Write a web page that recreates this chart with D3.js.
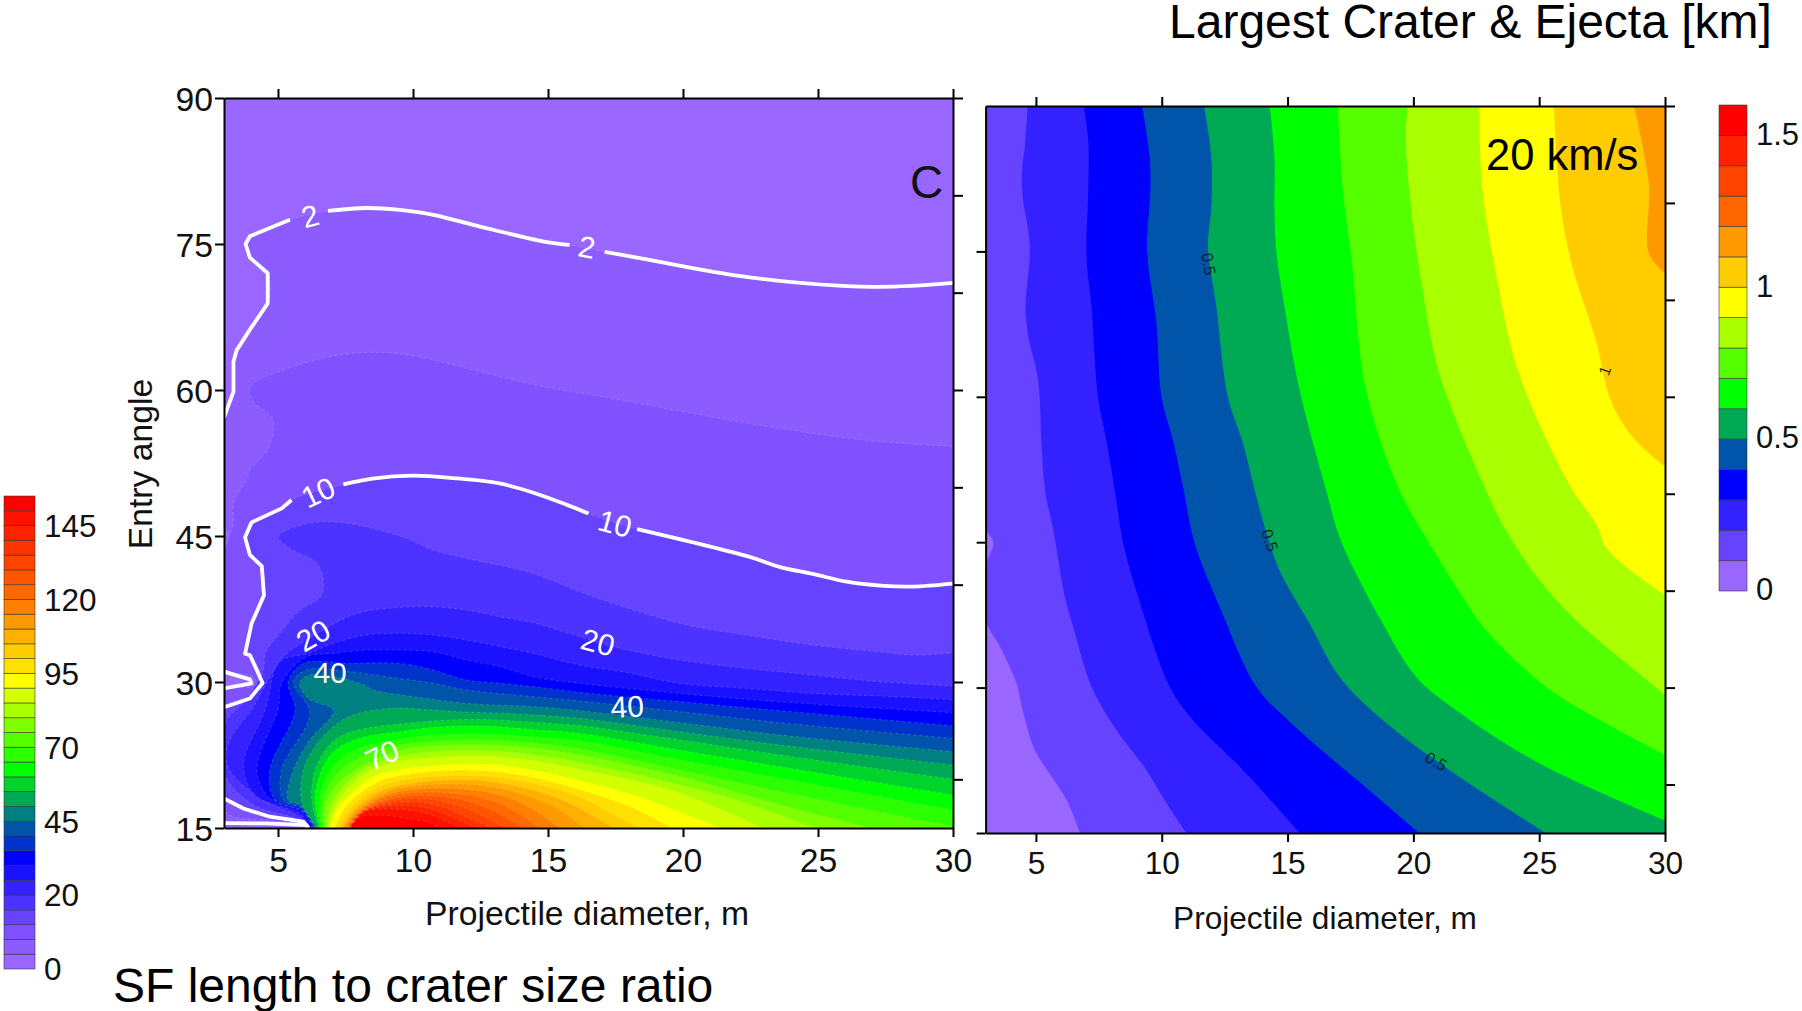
<!DOCTYPE html>
<html>
<head>
<meta charset="utf-8">
<script src="https://cdn.jsdelivr.net/npm/d3@7"></script>
<style>
	html, body { margin: 0; padding: 0; background: #fff; }
	svg { display: block; font-family: "Liberation Sans", Arial, sans-serif; }
</style>
</head>
<body>
<svg id="chart" width="1802" height="1011"></svg>
<script>
// tick values
const xTicks = [5, 10, 15, 20, 25, 30];
const leftAngleTicks = [15, 30, 45, 60, 75, 90];
const tenDegreeTicks = [20, 30, 40, 50, 60, 70, 80, 90];
const rightPanelLeftTicks = [15, 30, 45, 60, 75];

// left panel colour bar, bottom to top
const leftColors = ["#9966ff", "#8c5cff", "#8052ff", "#6644ff", "#4d33ff", "#3322ff", "#1a11ff", "#0000ff",
	"#0033cc", "#0055aa", "#008080", "#00aa55", "#00d42b", "#00ff00", "#2bff00", "#55ff00",
	"#80ff00", "#aaff00", "#d4ff00", "#ffff00", "#ffe000", "#ffcc00", "#ffb000", "#ff9900",
	"#ff8000", "#ff6a00", "#ff5500", "#ff4400", "#ff3300", "#ff2200", "#ff1100", "#ff0000"];
const leftLegendLabels = ["0", "20", "45", "70", "95", "120", "145"];
const leftLegendIndex = [0, 5, 10, 15, 20, 25, 30];

// right panel colour bar, bottom to top
const rightColors = ["#9966ff", "#6644ff", "#3322ff", "#0000ff", "#0055aa", "#00aa55", "#00ff00", "#55ff00",
	"#aaff00", "#ffff00", "#ffcc00", "#ff9900", "#ff6600", "#ff4400", "#ff2200", "#ff0000"];
const rightLegendValues = [0, 0.5, 1, 1.5];

// left panel isolines as [diameter, angle], nulls are breaks in the white line
const contour2 = [[6.12,15],[6.06,15.3],[4.58,15.47],[3,15.5],null,[3,29.35],[4.02,29.86],[3.96,30.27],[3,31.06],null,[3,43.7],null,[3.2,44.9],null,[3,46.3],null,[3,57.2],[3.35,59.8],[3.35,62.9],[3.47,64.1],[3.96,66.2],[4.62,68.9],[4.62,72],[3.96,73.6],[3.8,75],[3.96,75.8],[5.44,77.5],null,[6.85,78.4],[8.3,78.7],[9.5,78.5],[10.75,78],[12.6,76.7],[14.96,75.2],[15.8,74.9],null,[17.1,74.2],[18.5,73.5],[22.4,71.6],[27,70.6],[30,71]];
const contour5 = [[6.12,15],[6,15.4],[4.6,15.8],[3,16.8],[3,29],[4.1,29.6],[4.1,30.5],[3,31.5],[3,43],[3.34,46.3],[3.34,48.35],[3.84,50.8],[3.96,51.8],[4.64,54],[4.8,57],[4.09,58.8],[3.94,59.9],[4.09,60.7],[6.43,63.1],[7.9,63.8],[9.27,63.8],[10.75,63.1],[12.6,61.8],[15.07,60.2],[16.93,59.35],[22.8,56.4],[26.6,54.9],[30,54.2]];
const contour10 = [[6.12,15],[5.94,15.65],[4.7,16.16],[3.72,17],[3,18.05],null,[3,27.4],[3.96,28.3],[4.43,29.9],[3.96,32.77],[3.78,32.9],[4.02,36],[4.48,38.9],[4.4,41.9],[3.96,43.05],[3.78,44.86],[4.02,46.4],[5.14,47.84],[5.5,48.7],null,[7.42,50.3],[8.5,50.9],[10,51.2],[11.5,50.95],[13.2,50.4],[14.46,49.45],[15.7,48.2],[16.5,47.3],null,[18.3,45.7],[22.4,42.9],[23.6,41.8],[24.8,41.1],[26.06,40.3],[27.3,39.9],[28.5,39.8],[30,40.1]];
const contour15 = [[6.12,15],[5.81,15.82],[4.09,17.36],[3,20.61],[3,25.58],[3.9,28.49],[4.46,31.23],[4.52,32.94],[5.01,34.83],[5.81,37.39],[6.62,38.94],[6.49,42],[5.44,43.73],[5.01,44.93],[6.06,46.3],[7.42,46.37],[8.53,45.78],[9.76,44.76],[10.75,43.56],[11.99,42.7],[13.22,42],[14.46,41.16],[16.18,39.3],[17.42,38.08],[19.89,36.02],[22.36,34.83],[24.83,33.8],[27.3,33.1],[28.53,32.77],[30,33]];
const contour20 = [[6.12,15],[5.88,15.99],[4.46,17.87],[3.16,21.13],[3.16,23.7],[4.09,27.46],[4.7,30.54],[5.2,32.6],[6.68,35.34],[7.91,37.05],[9.52,37.67],[10.75,37.74],[11.99,37.39],[13.22,36.71],[14.46,36.09],[16.18,34.65],[17.42,33.63],[19.89,32.26],[22.36,31.4],[24.83,30.72],[27.3,30.03],[30,29.6]];
const contour25 = [[6.15,15],[5.88,16.33],[4.15,18.39],[3.72,21.47],[4.52,27.12],[5.07,32.09],[6.12,32.94],[7.05,33.97],[8.28,34.83],[9.52,35],[10.75,34.83],[11.99,34.31],[13.22,33.63],[14.46,32.94],[16.18,31.74],[18.04,30.9],[19.89,29.86],[22.36,29.35],[24.83,28.83],[27.3,28.56],[30,28.2]];
const contour30 = [[6.25,15],[6,16.5],[5.07,17.7],[4.64,18.22],[4.21,20.95],[5.01,27.29],[5.13,29.86],[6.06,32.6],[7.05,32.94],[8.28,33.28],[9.52,33.28],[10.75,33.11],[11.99,32.26],[13.22,31.57],[14.46,30.54],[16.18,29.86],[19.89,28.83],[23.59,27.97],[30,26.85]];
const contour35 = [[6.3,15],[5.94,16.68],[4.89,17.87],[4.7,20.95],[5.63,27.12],[5.38,30.03],[5.94,31.91],[7.67,31.91],[9.52,31.91],[10.75,31.23],[11.99,30.2],[13.22,29.86],[14.46,29.52],[16.18,28.93],[19.89,27.97],[23.59,27.05],[30,25.5]];
const contour40 = [[6.35,15],[5.88,17.02],[5.2,17.87],[5.13,20.95],[6.18,26.78],[5.57,30.03],[6.06,31.23],[7.67,31.06],[9.02,30.54],[10.75,29.86],[11.99,29.17],[14.46,28.49],[16.18,28.04],[19.89,26.95],[23.59,25.82],[30,24.2]];
const contour45 = [[6.4,15],[5.81,17.36],[5.38,17.87],[5.57,20.95],[6.18,24.04],[7.05,27.05],[6.12,28.32],[5.81,29.86],[6.18,30.72],[8.04,29.86],[8.53,29.17],[10.01,28.49],[11.99,27.8],[14.46,27.46],[16.18,27.05],[19.89,25.82],[23.59,24.55],[30,22.84]];
const contour50 = [[6.45,15],[5.88,17.7],[5.94,20.95],[6.37,23.35],[7.05,25.41],[7.79,26.61],[9.15,27.29],[10.75,27.12],[11.99,26.9],[13.22,26.8],[14.46,26.6],[16.18,26.26],[19.89,24.89],[23.59,23.52],[30,21.47]];
const contour55 = [[6.5,15],[6.25,17.87],[6.37,20.95],[6.86,23.35],[7.42,24.55],[8.28,25.24],[9.52,25.68],[10.75,26],[12.6,26.15],[14.46,25.85],[16.18,25.51],[19.89,24.04],[23.59,22.5],[30,20]];
const contour60 = [[6.56,15],[6.37,17.87],[6.62,20.95],[7.05,22.84],[7.67,23.87],[8.53,24.55],[9.52,24.89],[10.75,25.34],[12.6,25.47],[14.46,25.1],[16.18,24.72],[19.89,23],[23.59,21.3],[30,18.4]];
const contour65 = [[6.62,15],[6.53,17.87],[6.86,20.61],[7.42,22.33],[8.16,23.35],[9.02,23.87],[9.52,24.1],[10.75,24.55],[12.6,24.65],[14.46,24.35],[16.18,23.93],[19.89,21.98],[23.59,20.1],[30,16.8]];
const contour70 = [[6.68,15],[6.68,17.7],[7.05,20.1],[7.67,21.64],[8.41,22.7],[9.52,23.52],[10.75,23.86],[12.6,24.03],[14.46,23.7],[16.18,23.11],[19.89,20.95],[23.59,18.73],[30,15.13]];
const contour75 = [[6.74,15],[6.78,17.36],[7.23,19.59],[7.85,20.95],[8.65,22.1],[9.52,23],[10.75,23.42],[12.6,23.52],[14.46,23.2],[16.18,22.5],[19.89,20.27],[23.59,17.36],[26.92,15]];
const contour80 = [[6.8,15],[6.95,17.1],[7.36,19.07],[8.22,21.12],[9.27,22.25],[10.75,22.84],[12.6,22.94],[14.46,22.5],[16.18,21.74],[19.89,19.41],[22.36,17.53],[24.83,15]];
const contour85 = [[6.86,15],[7.05,16.84],[7.48,18.73],[8.35,20.78],[9.4,21.81],[10.75,22.25],[12.6,22.39],[14.46,21.91],[16.18,21.02],[18.04,19.93],[19.89,18.56],[22.97,15]];
const contour90 = [[6.93,15],[7.17,16.84],[7.67,18.39],[8.53,20.27],[9.52,21.02],[10.75,21.4],[12.6,21.54],[14.46,20.95],[16.31,19.76],[18.16,18.39],[20.01,16.5],[21.37,15]];
const contour95 = [[7.11,15],[7.42,16.84],[7.91,18.28],[8.72,19.76],[9.64,20.44],[11,20.88],[12.6,20.88],[14.46,20.2],[16.31,18.83],[18.16,17.02],[19.6,15]];
const contour100 = [[7.24,15],[7.54,16.5],[8.04,17.94],[8.84,19.31],[9.77,20],[11.12,20.34],[12.6,20.34],[14.46,19.58],[16.31,18.04],[17.54,16.16],[18.41,15]];
const contour105 = [[7.36,15],[7.67,16.33],[8.16,17.7],[8.96,18.96],[9.89,19.58],[11.25,19.93],[12.6,19.86],[14.21,19.07],[15.69,17.7],[16.93,15.82],[17.42,15]];
const contour110 = [[7.44,15],[7.77,16.33],[8.26,17.53],[9.05,18.73],[10.01,19.31],[11.37,19.51],[12.6,19.34],[13.96,18.56],[15.44,16.84],[16.31,15]];
const contour115 = [[7.52,15],[7.85,16.33],[8.35,17.46],[9.12,18.49],[10.14,19],[11.37,19.07],[12.48,18.83],[13.72,17.94],[14.7,16.5],[15.44,15]];
const contour120 = [[7.57,15],[7.91,16.33],[8.41,17.36],[9.21,18.28],[10.14,18.66],[11.25,18.62],[12.23,18.28],[13.35,17.36],[14.09,16.16],[14.7,15]];
const contour125 = [[7.6,15],[7.95,16.33],[8.43,17.25],[9.27,18.04],[10.14,18.35],[11.12,18.21],[11.99,17.77],[12.98,16.77],[13.59,15.82],[14.09,15]];
const contour130 = [[7.63,15],[7.98,16.33],[8.43,17.12],[9.27,17.8],[10.14,18.04],[11,17.8],[11.74,17.25],[12.6,16.23],[13.1,15.47],[13.47,15]];
const contour135 = [[7.64,15],[7.99,16.33],[8.41,17.02],[9.27,17.53],[10.07,17.7],[10.88,17.36],[11.49,16.77],[12.23,15.82],[12.98,15]];
const contour140 = [[7.65,15],[8,16.33],[8.35,16.91],[9.15,17.25],[10.01,17.25],[10.75,16.91],[11.37,16.23],[12.36,15]];
const contour145 = [[7.67,15],[8,16.23],[8.28,16.77],[9.03,16.98],[9.89,16.84],[10.63,16.4],[11.74,15]];
const contour150 = [[7.69,15],[8,16.06],[8.78,16.33],[9.77,15.99],[10.51,15.65],[11,15]];

const leftContours = [contour2, contour5, contour10, contour15, contour20, contour25, contour30, contour35,
	contour40, contour45, contour50, contour55, contour60, contour65, contour70, contour75, contour80,
	contour85, contour90, contour95, contour100, contour105, contour110, contour115, contour120,
	contour125, contour130, contour135, contour140, contour145, contour150];

// right panel isolines as [diameter, angle]
const crater01 = [[3,90],[3,46.6],[3.31,44.95],[3,42.5],[3,37],[3.57,34.23],[4.23,30.44],[4.5,27.35],[4.96,23.57],[6.22,18.41],[6.75,15]];
const crater02 = [[4.67,90],[4.56,85.8],[4.46,83.74],[4.46,81],[4.76,75.5],[4.59,69.3],[4.7,66.2],[5.09,61.73],[5.22,55.2],[5.36,50.4],[5.69,46.26],[6.15,39.38],[6.48,36.29],[7.21,30.1],[8.2,25.63],[9.39,21.5],[10.19,18.06],[10.98,15]];
const crater03 = [[6.9,90],[7.08,86.5],[7.08,81.33],[7.01,74.46],[7.21,69.3],[7.47,60],[7.8,55.5],[8.13,50.4],[8.47,44.9],[9.06,39.4],[10.32,30.1],[11.24,26.66],[13.23,21.5],[15.48,15]];
const crater04 = [[9.22,90],[9.52,84.77],[9.55,81.33],[9.42,75.14],[9.79,67.58],[9.99,60],[10.45,55.5],[10.87,50.4],[11.31,44.9],[12.3,38.35],[13.76,30.1],[15.01,26.66],[17.06,22],[17.85,20.3],[20.23,15]];
const crater05 = [[11.68,90],[11.97,84.77],[11.97,79.6],[11.84,75.5],[12.17,69.3],[12.63,60],[13.23,55.2],[13.69,50.4],[14.09,46.6],[14.68,42.1],[15.87,36.63],[17.06,31.13],[18.78,26.66],[21.43,21.5],[25.26,15]];
const crater06 = [[14.29,90],[14.48,84.77],[14.48,79.6],[14.55,75.14],[14.88,69.3],[15.48,60.7],[16.53,50.4],[17.06,45.57],[17.85,41.1],[18.78,36.63],[20.1,31.13],[21.69,27.7],[25,22.2],[30,16.3]];
const crater07 = [[17,90],[17.2,81.33],[17.53,74.46],[18.12,60.7],[19.44,50.4],[20.63,44.9],[21.95,39.4],[22.88,35.95],[25.26,30.1],[27.64,26.32],[30,23.05]];
const crater08 = [[19.77,90],[19.7,86.5],[19.9,79.6],[20.37,71],[21.03,62.4],[22.88,50.4],[23.67,46.26],[25,41.1],[26.58,36.63],[28.3,32.85],[30,29.24]];
const crater09 = [[22.62,90],[22.75,81.33],[23.28,72.74],[24.2,62.4],[26.32,50.4],[27.25,46.95],[27.64,44.54],[28.44,42.48],[30,39.56]];
const crater10 = [[25.59,90],[25.86,79.6],[26.32,73.42],[27.25,65.86],[27.84,59.67],[28.7,55.9],[30,52.8]];
const crater11 = [[28.77,90],[29.36,82],[29.36,74.8],[30,72.74]];
const rightContours = [crater01, crater02, crater03, crater04, crater05, crater06, crater07, crater08, crater09, crater10, crater11];

// isoline labels: text, diameter, angle, rotation
const leftLabels = [["2",6.19,77.9,-15],["2",16.44,74.7,10],["10",6.48,49.5,-25],["10",17.48,46.3,15],["20",6.3,34.8,-30],["20",16.85,34.1,15],["40",6.93,31,0],["40",17.93,27.5,-3],["70",8.85,22.5,-25]];
const rightLabels = [["0.5",11.87,73.7,80],["0.5",14.3,45.2,72],["0.5",20.91,22.4,30],["1",27.6,62.7,-70]];

const svg = d3.select("#chart");

const xLeft = d3.scaleLinear().domain([3, 30]).range([224, 953]);
const yLeft = d3.scaleLinear().domain([15, 90]).range([828, 98]);
const xRight = d3.scaleLinear().domain([3, 30]).range([985.6, 1665]);
const yRight = d3.scaleLinear().domain([15, 90]).range([833, 106]);

const smooth = d3.curveCatmullRom.alpha(0.5);

function regionPath(contour, x, y){
	let pts = contour.filter(d => d);
	let last = pts[pts.length - 1];
	let corners = [];
	// the band closes round the corners on the high side
	if(y === yRight){
		if(last[1] == 15) corners.push([30, 15]);
		corners.push([30, 90]);
	}else if(last[0] == 30){
		corners.push([30, 15]);
	}
	let path = d3.line().curve(smooth).x(d => x(d[0])).y(d => y(d[1]))(pts);
	corners.forEach(c => { path += "L" + x(c[0]) + "," + y(c[1]); });
	return path + "Z";
}

function drawFills(id, contours, colors, x, y, edgeOpacity){
	svg.append("clipPath").attr("id", id)
		.append("rect")
		.attr("x", x(3)).attr("y", y(90))
		.attr("width", x(30) - x(3)).attr("height", y(15) - y(90));

	let g = svg.append("g").attr("clip-path", "url(#" + id + ")");
	g.append("rect")
		.attr("x", x(3)).attr("y", y(90))
		.attr("width", x(30) - x(3)).attr("height", y(15) - y(90))
		.attr("fill", colors[0]);

	g.selectAll("path.band")
		.data(contours)
		.enter()
		.append("path")
		.attr("class", "band")
		.attr("d", d => regionPath(d, x, y))
		.attr("fill", (d, i) => colors[i + 1])
		.attr("stroke", edgeOpacity > 0 ? "#fff" : "none")
		.attr("stroke-opacity", edgeOpacity)
		.attr("stroke-width", 0.6)
		.attr("stroke-dasharray", "3 3");
	return g;
}

let leftFills = drawFills("clipLeft", leftContours, leftColors, xLeft, yLeft, 0.3);
drawFills("clipRight", rightContours, rightColors, xRight, yRight, 0);

// white isolines 2 and 10, split at the nulls: angular on the left, smooth further right
function splitAtBreaks(contour){
	let parts = [[]];
	contour.forEach(d => {
		if(d) parts[parts.length - 1].push(d);
		else parts.push([]);
	});
	return parts.filter(p => p.length > 1);
}

let whiteParts = splitAtBreaks(contour2).concat(splitAtBreaks(contour10));
leftFills.selectAll("path.white")
	.data(whiteParts)
	.enter()
	.append("path")
	.attr("class", "white")
	.attr("d", d => d3.line()
		.curve(d[0][0] > 6.5 ? smooth : d3.curveLinear)
		.x(p => xLeft(p[0])).y(p => yLeft(p[1]))(d))
	.attr("fill", "none")
	.attr("stroke", "#fff")
	.attr("stroke-width", 3.8)
	.attr("stroke-linejoin", "round");

svg.selectAll("text.leftLabel")
	.data(leftLabels)
	.enter()
	.append("text")
	.attr("class", "leftLabel")
	.attr("transform", d => "translate(" + xLeft(d[1]) + "," + yLeft(d[2]) + ") rotate(" + d[3] + ")")
	.attr("text-anchor", "middle")
	.attr("dy", "0.36em")
	.attr("font-size", 30)
	.attr("fill", "#fff")
	.text(d => d[0]);

svg.selectAll("text.rightLabel")
	.data(rightLabels)
	.enter()
	.append("text")
	.attr("class", "rightLabel")
	.attr("transform", d => "translate(" + xRight(d[1]) + "," + yRight(d[2]) + ") rotate(" + d[3] + ")")
	.attr("text-anchor", "middle")
	.attr("dy", "0.36em")
	.attr("font-size", 16)
	.attr("fill", "#111")
	.attr("fill-opacity", 0.85)
	.text(d => d[0]);

// axes
function styleAxis(g, size){
	g.attr("font-size", size).attr("font-family", null);
	g.selectAll("path, line").attr("stroke", "#000").attr("stroke-width", 2);
	g.selectAll("text").attr("fill", "#111");
}

function drawFrame(x, y, leftTicks, leftLabelled, rightTicks, size, pad){
	let bottom = d3.axisBottom(x).tickValues(xTicks).tickSize(9).tickSizeOuter(0).tickPadding(pad).tickFormat(d3.format("d"));
	let top = d3.axisTop(x).tickValues(xTicks).tickSize(9).tickSizeOuter(0).tickFormat("");
	let left = d3.axisLeft(y).tickValues(leftTicks).tickSize(9).tickSizeOuter(0).tickPadding(2)
		.tickFormat(leftLabelled ? d3.format("d") : "");
	let right = d3.axisRight(y).tickValues(rightTicks).tickSize(10).tickSizeOuter(0).tickFormat("");

	svg.append("g").attr("transform", "translate(0," + y(15) + ")").call(bottom).call(g => styleAxis(g, size));
	svg.append("g").attr("transform", "translate(0," + y(90) + ")").call(top).call(g => styleAxis(g, size));
	svg.append("g").attr("transform", "translate(" + x(3) + ",0)").call(left).call(g => {
		styleAxis(g, size);
		g.selectAll("text").attr("dy", "0.36em");
	});
	svg.append("g").attr("transform", "translate(" + x(30) + ",0)").call(right).call(g => styleAxis(g, size));
}

drawFrame(xLeft, yLeft, leftAngleTicks, true, tenDegreeTicks, 33.7, 11.5);
drawFrame(xRight, yRight, rightPanelLeftTicks, false, tenDegreeTicks, 31.6, 10);

// colour bars
function drawBar(x, w, y, colors){
	svg.append("g").selectAll("rect")
		.data(colors)
		.enter()
		.append("rect")
		.attr("x", x)
		.attr("y", (d, i) => y(i + 1))
		.attr("width", w)
		.attr("height", (d, i) => y(i) - y(i + 1))
		.attr("fill", d => d)
		.attr("stroke", "#333")
		.attr("stroke-opacity", 0.7)
		.attr("stroke-width", 0.8);
}

const barLeftY = d3.scaleLinear().domain([0, 32]).range([969, 496]);
const barRightY = d3.scaleLinear().domain([0, 16]).range([591, 105]);
drawBar(4, 31, barLeftY, leftColors);
drawBar(1719, 28, barRightY, rightColors);

svg.selectAll("text.barLeft")
	.data(leftLegendLabels)
	.enter()
	.append("text")
	.attr("class", "barLeft")
	.attr("x", 44)
	.attr("y", (d, i) => barLeftY(leftLegendIndex[i]))
	.attr("dy", "0.36em")
	.attr("font-size", 31.5)
	.attr("fill", "#111")
	.text(d => d);

svg.selectAll("text.barRight")
	.data(rightLegendValues)
	.enter()
	.append("text")
	.attr("class", "barRight")
	.attr("x", 1756)
	.attr("y", d => barRightY(d * 10))
	.attr("dy", "0.3em")
	.attr("font-size", 31)
	.attr("fill", "#111")
	.text(d => d);

// titles
svg.append("text").attr("x", 1169).attr("y", 38).attr("font-size", 48).attr("fill", "#000").text("Largest Crater & Ejecta [km]");
svg.append("text").attr("x", 113).attr("y", 1002).attr("font-size", 48).attr("fill", "#000").text("SF length to crater size ratio");
svg.append("text").attr("x", 910).attr("y", 198).attr("font-size", 46).attr("fill", "#111").text("C");
svg.append("text").attr("x", 1486).attr("y", 170).attr("font-size", 43.5).attr("fill", "#000").text("20 km/s");
svg.append("text").attr("x", 587).attr("y", 925).attr("text-anchor", "middle").attr("font-size", 33.7).attr("fill", "#111").text("Projectile diameter, m");
svg.append("text").attr("x", 1325).attr("y", 929).attr("text-anchor", "middle").attr("font-size", 31.6).attr("fill", "#111").text("Projectile diameter, m");
svg.append("text").attr("transform", "translate(152,464) rotate(-90)").attr("text-anchor", "middle").attr("font-size", 33.7).attr("fill", "#111").text("Entry angle");
</script>
</body>
</html>
